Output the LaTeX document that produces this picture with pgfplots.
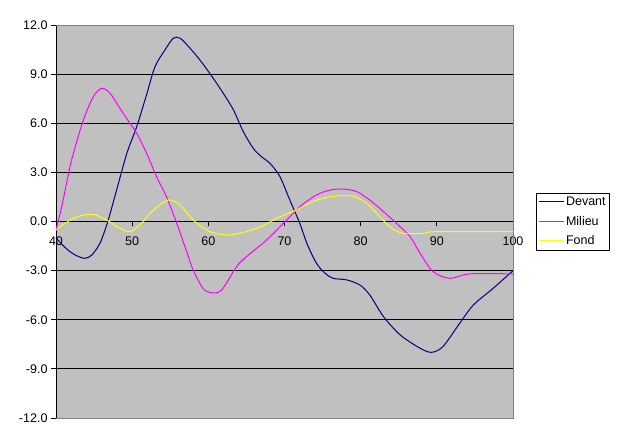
\documentclass[border=0pt]{standalone}
\usepackage{fontspec}
\setmainfont{Liberation Sans}
\usepackage{pgfplots}
\pgfplotsset{compat=1.18}
\definecolor{bgray}{HTML}{C0C0C0}
\definecolor{bord}{HTML}{808080}
\definecolor{devant}{HTML}{000080}
\definecolor{milieu}{HTML}{FF00FF}
\definecolor{fond}{HTML}{FFFF00}
\begin{document}
\begin{tikzpicture}
\path[use as bounding box] (-56pt,-25pt) rectangle (563pt,418pt);
\begin{axis}[
  scale only axis, width=457pt, height=393pt,
  at={(0,0)}, anchor=south west,
  xmin=40, xmax=100, ymin=-12, ymax=12,
  axis x line=middle, axis y line=left,
  hide obscured x ticks=false,
  axis line style={-, black, line width=0.8pt},
  xtick={40,50,...,100}, ytick={-12,-9,...,12},
  ymajorgrids, grid style={black, line width=0.8pt},
  tick align=outside, major tick length=5pt,
  tick style={black, line width=0.8pt},
  axis background/.style={fill=bgray},
  font=\fontsize{12.5}{15}\selectfont,
  /pgf/number format/assume math mode=true,
  yticklabel={\pgfmathprintnumber[fixed,fixed zerofill,precision=1]{\tick}},
  xticklabel={\pgfmathprintnumber[fixed,precision=0]{\tick}},
  xticklabel style={fill=none, yshift=-7pt},
  legend style={at={(1.05,0.5)}, anchor=west, draw=black, fill=white,
    font=\fontsize{12.5}{15}\selectfont, inner sep=2pt, row sep=5pt,
    cells={anchor=west}},
  legend image code/.code={\draw[#1] (0pt,0pt) -- (25pt,0pt);},
  clip=false,
]
\addplot[devant, line width=1pt, smooth, tension=0.5] coordinates {
(40,-1.0)(41,-1.5)(42,-1.9)(43,-2.15)(43.8,-2.25)(44.7,-2.05)(45.8,-1.3)(46.8,0.0)(47.9,1.82)(49.3,4.16)(50.6,5.79)(51.8,7.6)(53.0,9.45)(54.3,10.47)(55.4,11.19)(56.3,11.19)(57.6,10.58)(59,9.8)(60.65,8.74)(62,7.8)(63.3,6.81)(64.6,5.48)(65.9,4.47)(67,3.95)(68.1,3.55)(69.4,2.74)(70.7,1.31)(72.0,-0.11)(73,-1.4)(74.2,-2.55)(75.3,-3.15)(76.4,-3.47)(78.2,-3.57)(79.9,-3.88)(81.2,-4.49)(83.0,-5.81)(85.2,-6.93)(87.8,-7.74)(89.3,-7.99)(90.8,-7.64)(93.0,-6.22)(94.8,-5.1)(97.4,-4.08)(100,-3.0)
};
\addlegendentry{Devant}
\addplot[milieu, line width=1pt, smooth, tension=0.5] coordinates {
(40,-0.52)(40.75,0.9)(42.05,3.76)(43.6,6.2)(44.9,7.62)(46.0,8.13)(47.1,7.83)(48.4,6.91)(49.7,6.0)(50.6,5.39)(51.9,4.16)(53.2,2.74)(54.5,1.51)(55.85,-0.11)(57.2,-1.9)(58.0,-2.96)(59.3,-4.08)(60.4,-4.35)(61.75,-4.18)(63.7,-2.76)(65.0,-2.15)(67.65,-1.13)(70.3,0.1)(72.0,0.9)(74.2,1.62)(76.0,1.92)(77.7,1.98)(79.5,1.82)(81.2,1.31)(83.0,0.6)(84.7,-0.11)(86.5,-0.93)(87.8,-1.94)(89.5,-3.06)(91.7,-3.47)(94.3,-3.2)(100,-3.2)
};
\addlegendentry{Milieu}
\addplot[fond, line width=1pt, smooth, tension=0.5] coordinates {
(40,-0.52)(42.3,0.2)(44.7,0.44)(46.65,0.09)(48.4,-0.42)(49.7,-0.62)(51.0,-0.21)(52.8,0.7)(54.7,1.31)(56.3,1.0)(58.0,0.09)(60.2,-0.62)(62.85,-0.82)(66.35,-0.42)(69.4,0.29)(71.1,0.6)(73.7,1.21)(76.0,1.51)(78.8,1.56)(80.8,1.11)(82.5,0.29)(84.1,-0.42)(85.6,-0.72)(88.2,-0.72)(90.0,-0.62)(100,-0.62)
};
\addlegendentry{Fond}
\draw[bord, line width=0.8pt] (rel axis cs:0,1) -- (rel axis cs:1,1) -- (rel axis cs:1,0) -- (rel axis cs:0,0);
\end{axis}
\end{tikzpicture}
\end{document}
